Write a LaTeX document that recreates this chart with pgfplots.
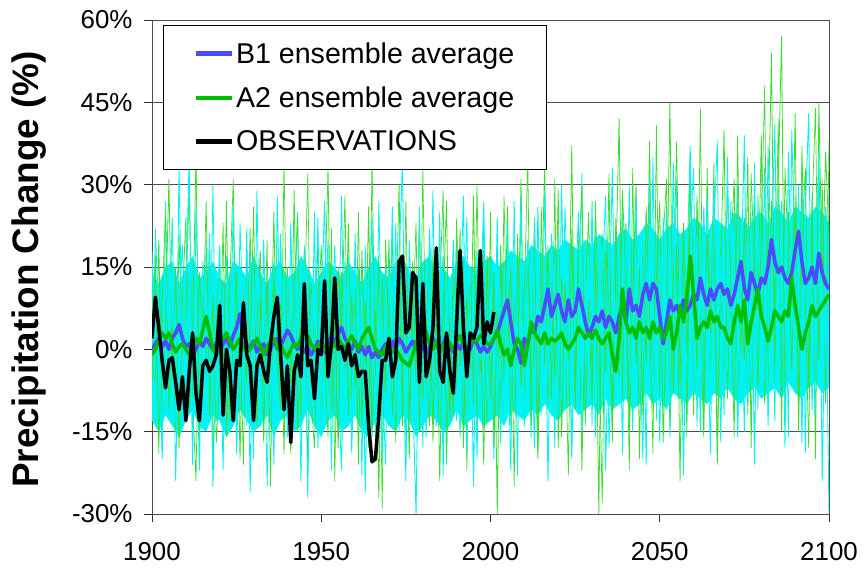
\documentclass[border=0pt]{standalone}
\usepackage{pgfplots}
\pgfplotsset{compat=1.18}
\usepackage{pgfplotstable}
\usepgfplotslibrary{fillbetween}
\usepackage{fontspec}
\setmainfont{Liberation Sans}
\definecolor{cy}{RGB}{0,242,242}
\definecolor{gm}{RGB}{60,220,45}
\definecolor{bone}{RGB}{75,75,255}
\definecolor{atwo}{RGB}{0,190,0}

\pgfplotstableread{
year b1 a2
1900 0 -1
1901 1 0
1902 2 1.5
1903 0.5 3
1904 1.5 2
1905 0 3
1906 2 1
1907 3 -0.5
1908 4.5 0.5
1909 2 1
1910 0.5 0
1911 1 -1
1912 -1 0.5
1913 0 2
1914 1.5 1
1915 0.5 3.5
1916 2 6
1917 1 3
1918 0 0
1919 1 -1
1920 -0.5 1
1921 1 2
1922 2 3
1923 0.5 1.5
1924 2.5 0
1925 4 1
1926 6.5 2
1927 3 0.5
1928 1 -0.5
1929 0 0
1930 1.5 1
1931 -0.5 2
1932 0.5 0.5
1933 1 -1
1934 -1 0.5
1935 0 1.5
1936 1.5 2
1937 2 0
1938 0.5 1
1939 2 -0.5
1940 3.5 -1.5
1941 2.5 0
1942 1 1
1943 0 0.5
1944 1 2
1945 -0.5 3
1946 0.5 2.5
1947 -1 1
1948 0 0
1949 1.5 0.5
1950 0.5 1.5
1951 -0.5 0
1952 1 -0.5
1953 2.5 1
1954 1 0.5
1955 3 2
1956 4 1
1957 2 0
1958 1 1.5
1959 0 2.5
1960 1.5 1
1961 -0.5 0
1962 0.5 2
1963 -1 3
1964 0.5 4
1965 -1.5 2
1966 -0.5 0
1967 -1.5 -0.5
1968 0 -1
1969 1 0.5
1970 -0.5 1
1971 1.5 -0.5
1972 0 0
1973 2 -1
1974 1 -2
1975 -0.5 -2.5
1976 0.5 -3
1977 1.5 -1
1978 0 1
1979 2 3
1980 0.5 6
1981 -1 3
1982 0.5 1
1983 2 0
1984 1 1.5
1985 -0.5 -0.5
1986 1 0.5
1987 2.5 2
1988 0.5 1
1989 -0.5 0
1990 1 1.5
1991 0 2.5
1992 1.5 1
1993 -0.5 0
1994 0 1
1995 2 2
1996 1 1.5
1997 -0.5 2.5
1998 0.5 2
1999 -0.5 1
2000 0.5 1
2001 2 2
2002 3 3.5
2003 5 1
2004 7 -1
2005 9 0
2006 5 -3
2007 1 0
2008 0 2
2009 -2.5 1
2010 2 -3
2011 1 1
2012 4 5
2013 3 3
2014 6 2
2015 5 1
2016 8 3
2017 11 1
2018 6 2
2019 8 1.5
2020 10 2
2021 7 3
2022 5 1
2023 9 0
2024 6 1
2025 7 2
2026 11 4
2027 8 3
2028 5 2
2029 2.5 3
2030 4 2
2031 6 3.5
2032 5 2
2033 7 1
2034 4 2
2035 6 3
2036 5 -1
2037 3 -4
2038 6 2
2039 8 11
2040 5 5
2041 11 3
2042 7 4
2043 8 2
2044 6 5
2045 10 3
2046 12 4
2047 9 2
2048 12 5
2049 11 3
2050 6 4
2051 1 2
2052 5 3
2053 9 6
2054 7 0
2055 8 3
2056 6 8
2057 9 5
2058 7 9
2059 8 17
2060 10 10
2061 9 2
2062 13 4
2063 10 5
2064 8 4
2065 11 7
2066 9 5
2067 11 6
2068 12 4
2069 10 4
2070 11 2
2071 8 1
2072 10 5
2073 13 8
2074 16 5
2075 11 9
2076 9 1
2077 14 5
2078 12 8
2079 10 11
2080 13 6
2081 12 4
2082 15 1.5
2083 20 4
2084 16 7
2085 14 6
2086 15 5
2087 13 7
2088 12 6
2089 14 13
2090 18 8
2091 21.5 4
2092 16 0
2093 12 3
2094 13 5
2095 15 8
2096 12 6
2097 17.5 7
2098 14 8
2099 12 9
2100 11 10
}\ens

\pgfplotstableread{
year val
1900 2
1901 9.5
1902 4
1903 -2
1904 -7
1905 -2
1906 -1.5
1907 -6
1908 -11
1909 -5
1910 -13
1911 -4
1912 3
1913 -8
1914 -13
1915 -3
1916 -2
1917 -4
1918 -3
1919 -1
1920 8
1921 -12
1922 0
1923 -4
1924 -13
1925 -2
1926 -3
1927 8.5
1928 -1
1929 -3
1930 -13
1931 -3
1932 -1
1933 -4
1934 -6
1935 1
1936 6
1937 9.5
1938 -1
1939 -11
1940 -3
1941 -17
1942 -4
1943 -1
1944 -5
1945 12
1946 -3
1947 -2
1948 -9
1949 0
1950 -1
1951 12.5
1952 -5
1953 1
1954 13
1955 0
1956 0.5
1957 -2
1958 1
1959 -3
1960 -1
1961 -5
1962 -4
1963 -4
1964 -14
1965 -20.5
1966 -20
1967 -12
1968 -2
1969 -2
1970 2
1971 -5
1972 -2
1973 16
1974 17
1975 3
1976 4
1977 14
1978 13
1979 -6
1980 12
1981 -5
1982 -2
1983 4
1984 18.5
1985 -4
1986 -6
1987 3
1988 -4
1989 -8
1990 5
1991 18
1992 4
1993 -5
1994 3
1995 2
1996 4
1997 18
1998 1
1999 5
2000 3
2001 6.8
}\obs

\pgfplotstableread{
year g1 g2 c1 c2
1900 12 -6 18 -12
1901 -8 17 -10 22
1902 20 -19 8 5
1903 -14 9 -20 -18
1904 6 25 14 27
1905 31 -11 2 -7
1906 -5 4 24 13
1907 15 -15 -13 -24
1908 -18 21 33 9
1909 9 -3 -6 19
1910 24 8 11 -4
1911 -11 30 35 14
1912 3 -9 -17 -21
1913 36 -24 5 26
1914 -16 14 -22 2
1915 11 2 16 -15
1916 -3 27 -8 20
1917 19 -12 21 -9
1918 -22 10 -25 30
1919 7 -17 3 -13
1920 16 -5 19 6
1921 -9 23 -15 -22
1922 27 -16 10 17
1923 -13 12 -4 -2
1924 2 31 26 12
1925 14 -8 -19 -17
1926 -20 6 7 23
1927 10 -21 -12 4
1928 -6 18 22 -14
1929 22 -2 -26 18
1930 -12 26 12 -20
1931 5 -14 2 29
1932 18 9 -14 -8
1933 -17 -6 20 11
1934 13 20 -9 -25
1935 -4 -25 15 7
1936 25 13 -21 16
1937 -10 1 28 -12
1938 8 -11 -3 21
1939 -19 34 9 -5
1940 15 -4 -16 13
1941 -7 -19 23 -18
1942 29 11 -6 3
1943 -15 24 13 25
1944 4 -13 -24 -9
1945 17 7 18 19
1946 -23 32 1 -27
1947 12 -9 -11 10
1948 -2 -18 25 -3
1949 21 5 -18 24
1950 -14 19 8 -15
1951 9 -2 27 6
1952 33 -16 -13 20
1953 -11 22 4 -22
1954 6 -24 19 14
1955 -18 15 -7 -1
1956 14 3 -22 28
1957 -5 28 16 -11
1958 23 -12 2 17
1959 -9 10 -15 -19
1960 11 -7 21 4
1961 -21 25 -9 15
1962 18 -14 12 -23
1963 -3 9 -26 19
1964 26 -18 6 -6
1965 -16 35 24 11
1966 7 -5 -14 -16
1967 -27 17 10 27
1968 13 -29 -20 -4
1969 -8 20 15 -21
1970 20 2 -5 16
1971 -12 21 26 -8
1972 5 -17 -12 23
1973 30 13 17 -15
1974 -14 -8 34 5
1975 9 27 -18 -24
1976 -20 -11 9 20
1977 16 4 -8 2
1978 -6 23 -30 -13
1979 24 -15 13 26
1980 -10 33 7 -18
1981 3 -5 -16 11
1982 19 -14 22 -5
1983 -17 18 1 29
1984 12 -9 -11 -14
1985 -24 10 25 8
1986 8 29 -23 17
1987 27 -20 14 -21
1988 -13 6 -4 12
1989 15 -12 20 -2
1990 -7 24 -13 21
1991 22 -3 6 -16
1992 -18 16 28 3
1993 10 -22 -19 24
1994 -4 12 11 -10
1995 28 -10 -25 15
1996 -15 30 18 -20
1997 6 -4 -2 9
1998 -21 19 23 27
1999 17 -13 -10 -7
2000 -9 25 16 12
2001 14 -18 -7 -20
2002 -30 7 24 18
2003 19 -11 -17 4
2004 -6 28 12 -13
2005 26 -2 3 23
2006 -14 15 -22 -5
2007 11 -25 27 15
2008 -3 21 -9 -23
2009 31 -7 15 28
2010 -12 10 -14 -3
2011 18 35 20 11
2012 -8 -14 5 -16
2013 24 5 -18 24
2014 -19 -20 26 2
2015 7 26 -6 -12
2016 34 -3 13 29
2017 -10 19 -24 -6
2018 15 -9 21 17
2019 -5 31 8 -18
2020 29 -18 -12 21
2021 -16 13 30 -9
2022 12 4 -4 26
2023 -2 -23 17 5
2024 37 22 -20 -17
2025 -11 -6 9 14
2026 20 16 25 -2
2027 -22 30 -15 32
2028 9 -14 14 -11
2029 25 9 -7 19
2030 -7 -10 27 -14
2031 16 27 -16 24
2032 -30 2 10 -7
2033 21 -28 19 13
2034 -4 18 -22 28
2035 32 8 6 -18
2036 -13 -17 33 6
2037 14 24 -8 21
2038 42 -5 15 -10
2039 -9 29 -19 26
2040 23 12 22 -5
2041 -15 -22 1 30
2042 10 33 -13 -15
2043 30 -3 28 17
2044 -20 15 -6 3
2045 17 -12 16 -20
2046 -3 26 -21 25
2047 38 6 31 -8
2048 -11 -19 -10 35
2049 13 41 12 -13
2050 27 -9 -17 18
2051 -17 20 24 -2
2052 6 31 8 27
2053 45 -14 -11 -16
2054 -8 12 34 10
2055 19 38 -4 31
2056 -24 -6 19 -9
2057 22 23 -23 23
2058 -1 -16 14 -12
2059 36 29 37 20
2060 -12 15 -8 33
2061 28 -4 21 -14
2062 4 44 -15 16
2063 -16 -13 26 -3
2064 33 21 5 28
2065 -6 3 -19 -10
2066 24 34 30 22
2067 -21 -19 -3 38
2068 15 18 17 -17
2069 40 -8 -12 14
2070 -9 30 35 -4
2071 18 10 -6 27
2072 31 -16 22 -12
2073 -14 39 -16 30
2074 11 -1 12 8
2075 -2 24 39 -15
2076 35 -12 -10 23
2077 -18 32 24 -7
2078 26 14 -21 34
2079 7 -7 28 -11
2080 39 22 2 20
2081 -10 48 33 -6
2082 21 -11 -14 37
2083 54 27 18 12
2084 -6 5 41 -13
2085 30 42 -8 29
2086 57 -15 27 -3
2087 -13 33 -18 24
2088 25 16 36 -16
2089 8 -4 10 40
2090 43 28 -5 15
2091 -15 -12 30 -8
2092 19 37 -17 34
2093 33 9 25 -19
2094 -7 -18 43 22
2095 28 26 -11 6
2096 -20 44 20 -12
2097 45 -2 32 36
2098 12 31 -24 -2
2099 36 -10 16 26
2100 20 38 -30 18
}\mem

\pgfplotstableread{
year up lo
1900 14 -13
1902 12 -15
1904 15 -12
1906 16 -14
1908 12 -16
1910 15 -13
1912 17 -11
1914 13 -14
1916 14 -15
1918 16 -12
1920 13 -13
1922 12 -16
1924 16 -14
1926 15 -11
1928 13 -13
1930 17 -15
1932 14 -14
1934 12 -12
1936 15 -16
1938 16 -13
1940 13 -12
1942 14 -15
1944 17 -14
1946 15 -11
1948 12 -14
1950 14 -16
1952 16 -13
1954 15 -12
1956 13 -15
1958 16 -14
1960 14 -12
1962 12 -15
1964 15 -16
1966 17 -13
1968 14 -12
1970 13 -14
1972 16 -15
1974 17 -12
1976 14 -13
1978 13 -16
1980 16 -14
1982 17 -12
1984 14 -13
1986 15 -15
1988 13 -14
1990 16 -11
1992 17 -14
1994 15 -13
1996 14 -12
1998 16 -14
2000 17 -13
2002 15 -12
2004 16 -14
2006 18 -11
2008 17 -12
2010 16 -13
2012 19 -11
2014 18 -12
2016 17 -10
2018 19 -12
2020 18 -13
2022 20 -11
2024 19 -10
2026 18 -12
2028 20 -11
2030 19 -10
2032 21 -12
2034 20 -9
2036 19 -11
2038 21 -10
2040 22 -9
2042 20 -11
2044 21 -10
2046 23 -8
2048 22 -10
2050 20 -9
2052 22 -11
2054 23 -8
2056 21 -9
2058 22 -10
2060 24 -8
2062 23 -9
2064 21 -10
2066 24 -8
2068 23 -9
2070 22 -7
2072 25 -9
2074 24 -10
2076 22 -8
2078 24 -7
2080 25 -9
2082 23 -8
2084 26 -7
2086 25 -9
2088 23 -6
2090 26 -8
2092 25 -9
2094 24 -7
2096 26 -6
2098 25 -8
2100 23 -7
}\band

\begin{document}
\begin{tikzpicture}
\begin{axis}[
  at={(0,0)}, anchor=south west,
  width=677bp, height=494bp, scale only axis,
  xmin=1900, xmax=2100, ymin=-30, ymax=60,
  xtick={1900,1950,2000,2050,2100},
  xticklabels={1900,1950,2000,2050,2100},
  ytick={-30,-15,0,15,30,45,60},
  yticklabels={-30\%,-15\%,0\%,15\%,30\%,45\%,60\%},
  ticklabel style={font=\fontsize{26}{30}\selectfont, text=black},
  xticklabel style={yshift=-17bp},
  yticklabel style={xshift=-8bp},
  tick align=outside, xtick pos=bottom, ytick pos=left,
  major tick length=8bp,
  tick style={black!80, line width=1bp},
  axis line style={black!70, line width=1bp},
  ymajorgrids, major grid style={black!70, line width=1bp},
  ylabel={Precipitation Change (\%)},
  ylabel style={font=\fontsize{37}{42}\selectfont\bfseries, at={(axis description cs:-0.182,0.495)}, anchor=center},
  legend style={at={(axis description cs:0.0162,0.99)}, anchor=north west,
    draw=black, line width=1.2bp, fill=white,
    font=\fontsize{28.7}{33}\selectfont, inner xsep=30bp, inner ysep=15bp,
    row sep=18bp},
  legend cell align=left,
  legend image code/.code={\draw[#1, line width=4.5bp] (0bp,0bp) -- (36bp,0bp);},
]
\addplot[gm, line width=0.8bp, forget plot] table[x=year,y=g1]{\mem};
\addplot[name path=up, draw=none, forget plot] table[x=year,y=up]{\band};
\addplot[name path=lo, draw=none, forget plot] table[x=year,y=lo]{\band};
\addplot[fill=cy, draw=none, forget plot] fill between[of=up and lo];
\addplot[cy, line width=0.8bp, forget plot] table[x=year,y=c2]{\mem};
\addplot[gm, line width=0.7bp, forget plot] table[x=year,y=g2]{\mem};
\addplot[cy, line width=0.9bp, forget plot] table[x=year,y=c1]{\mem};
\addplot[bone, line width=3.5bp, line join=round] table[x=year,y=b1]{\ens};
\addlegendentry{B1 ensemble average}
\addplot[atwo, line width=3.5bp, line join=round] table[x=year,y=a2]{\ens};
\addlegendentry{A2 ensemble average}
\addplot[black, line width=3.5bp, line join=round] table[x=year,y=val]{\obs};
\addlegendentry{OBSERVATIONS}
\end{axis}
\pgfresetboundingbox
\path[use as bounding box] (-152bp,-58bp) rectangle (714bp,514bp);
\end{tikzpicture}
\end{document}
